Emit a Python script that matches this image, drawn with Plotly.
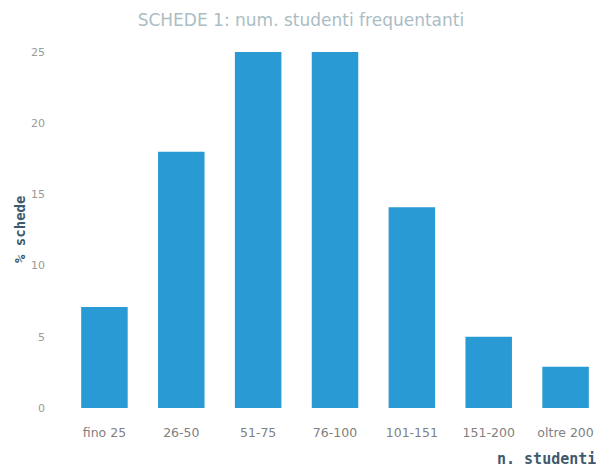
import plotly.graph_objects as go

categories = ["fino 25", "26-50", "51-75", "76-100", "101-151", "151-200", "oltre 200"]
values = [7.1, 18, 25, 25, 14.1, 5, 2.9]
y_ticks = [0, 5, 10, 15, 20, 25]

fig = go.Figure(go.Bar(x=categories, y=values, marker_color="#2a9ad4", marker_line_width=0))

fig.update_layout(
    width=604, height=468,
    margin=dict(l=58, r=8, t=44, b=68),
    paper_bgcolor="white", plot_bgcolor="white",
    bargap=0.395,
    showlegend=False,
    title=dict(text="SCHEDE 1: num. studenti frequentanti", x=0.485, xref="container", xanchor="center",
               y=0.974, yref="container", yanchor="middle",
               font=dict(family="DejaVu Sans", size=17, color="#abbdc4")),
    font=dict(family="DejaVu Sans", size=11, color="#8a8a8a"),
)
fig.update_xaxes(showgrid=False, showline=False, zeroline=False, ticklabelstandoff=15,
                 tickfont=dict(size=12.5, color="#7f7f7f"))
fig.update_yaxes(range=[0, 25], tickvals=y_ticks, showgrid=False, showline=False, zeroline=False,
                 ticklabelstandoff=20, tickfont=dict(size=11, color="#9a9a9a"))

fig.add_annotation(text="<b>% schede</b>", textangle=-90, xref="paper", yref="paper", x=0, y=0.5,
                   xanchor="center", yanchor="middle", xshift=-46, showarrow=False,
                   font=dict(family="DejaVu Sans Mono", size=14, color="#3e5a6c"))
fig.add_annotation(text="<b>n. studenti</b>", xref="paper", yref="paper", x=1, y=0,
                   xanchor="right", yanchor="middle", xshift=-6, yshift=-51, showarrow=False,
                   font=dict(family="DejaVu Sans Mono", size=15, color="#3e5a6c"))

fig.write_html("out.html")
